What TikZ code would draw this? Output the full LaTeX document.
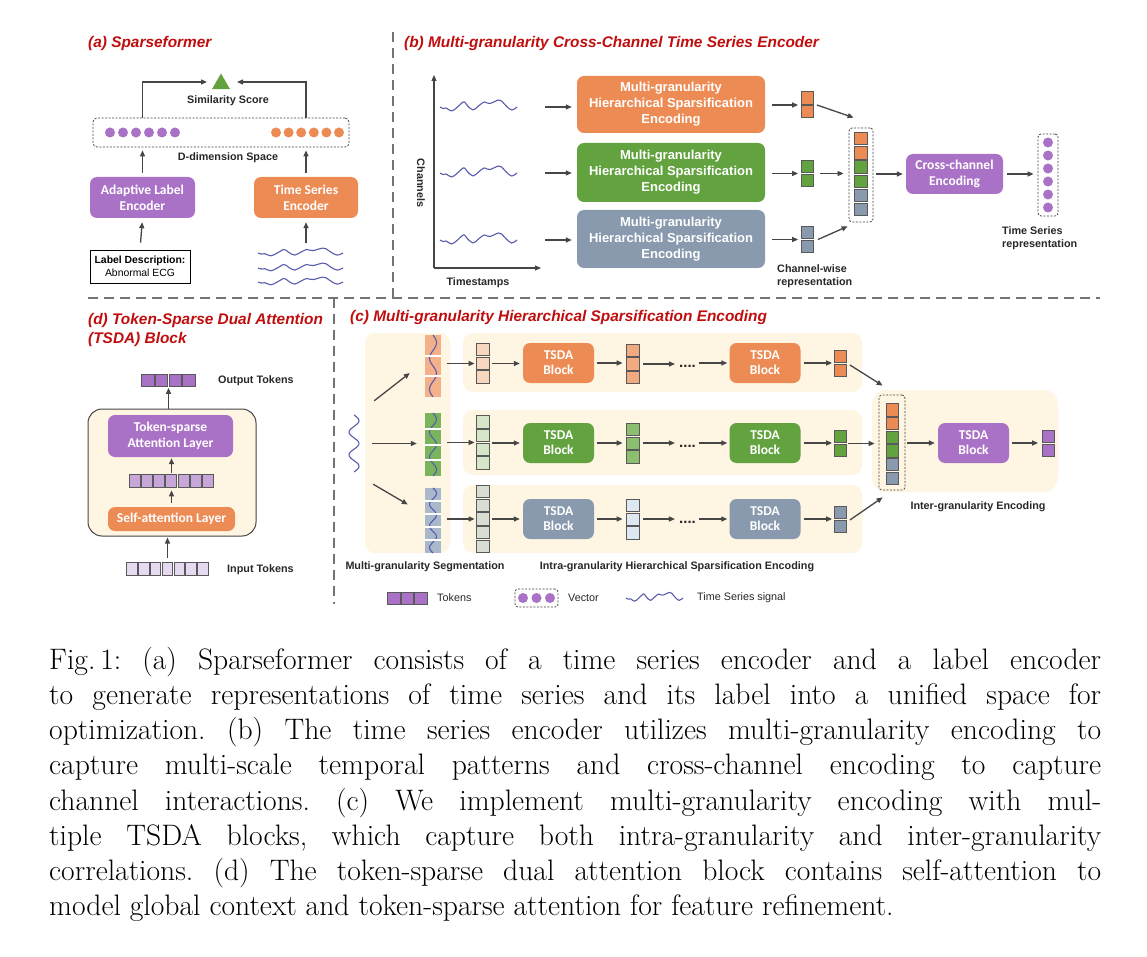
\documentclass[tikz,border=0pt]{standalone}
\usepackage{fontspec}
\setsansfont{Liberation Sans}
\newfontfamily\calfont{Carlito}
\usetikzlibrary{arrows.meta,shapes.geometric,calc}
\definecolor{tred}{RGB}{192,14,14}
\definecolor{corg}{RGB}{237,139,85}
\definecolor{corgm}{RGB}{242,170,128}
\definecolor{corgl}{RGB}{249,214,190}
\definecolor{cgrn}{RGB}{98,163,64}
\definecolor{cgrnm}{RGB}{140,190,112}
\definecolor{cgrnl}{RGB}{214,230,200}
\definecolor{cgry}{RGB}{137,153,174}
\definecolor{cgryl}{RGB}{216,222,210}
\definecolor{cblul}{RGB}{222,232,242}
\definecolor{cpur}{RGB}{170,114,198}
\definecolor{cpurm}{RGB}{200,166,216}
\definecolor{cpurl}{RGB}{230,218,240}
\definecolor{ccrm}{RGB}{254,246,226}
\definecolor{carr}{RGB}{70,70,70}
\definecolor{cwave}{RGB}{88,92,172}
\definecolor{ctxt}{RGB}{40,40,40}
\definecolor{cseg1}{RGB}{243,176,138}
\definecolor{cseg2}{RGB}{122,180,92}
\definecolor{cseg3}{RGB}{170,184,204}
\tikzset{
 arr/.style={draw=carr, line width=1.3pt, -{Triangle[length=6pt,width=5pt]}},
 divider/.style={draw=black!55, line width=1.2pt, dash pattern=on 10pt off 6pt},
 ttl/.style={font=\sffamily\bfseries\itshape\fontsize{15.4}{18.6}\selectfont, text=tred, inner sep=0, anchor=west, align=left},
 lbl/.style={font=\sffamily\bfseries\fontsize{10.8}{13.3}\selectfont, text=ctxt, inner sep=0, align=center},
 lgd/.style={font=\sffamily\fontsize{10.8}{13}\selectfont, text=ctxt, inner sep=0, anchor=west},
 blk/.style={rounded corners=7pt, inner sep=0, align=center, text=white},
 mh/.style={blk, font=\sffamily\bfseries\fontsize{13}{16}\selectfont, minimum width=188pt},
 cb/.style={blk, font=\calfont\bfseries\fontsize{13.5}{16}\selectfont},
 tsda/.style={blk, font=\calfont\bfseries\fontsize{13.5}{15}\selectfont, minimum width=71pt, minimum height=40pt},
 cell/.style={draw=carr!90, line width=0.7pt, minimum width=12.4pt, minimum height=12.4pt, inner sep=0},
 dotc/.style={circle, minimum size=10pt, inner sep=0, fill=#1},
 dbox/.style={draw=carr, dash pattern=on 2pt off 1.5pt, line width=0.8pt, rounded corners=3pt, inner sep=0},
 wave/.style={draw=cwave, line width=1.1pt, line join=round},
 holder/.style={inner sep=0, draw=none},
 bg/.style={fill=ccrm, rounded corners=10pt, inner sep=0, draw=none},
}
\newcommand\vstack[5]{%
  \node[holder, minimum width=12.4pt, minimum height={#4*13.7pt}] (#1) at (#2,#3) {};
  \foreach \k in {1,...,#4}{\node[cell, fill=#5] at ($(#1.north)+(0,{(\k-0.5)*13.7})$) {};}
}
\newcommand\hstack[6]{%
  \node[holder, minimum height=12.4pt, minimum width={#4*#6pt}] (#1) at (#2,#3) {};
  \foreach \k in {1,...,#4}{\node[cell, fill=#5, minimum width={#6pt-1.2pt}] at ($(#1.west)+({(\k-0.5)*#6},0)$) {};}
}
\newcommand\hwave[4]{%
  \draw[wave, shift={(#1,#2)}, xscale=#3, yscale=#4] plot[smooth, tension=0.6] coordinates {(0,0) (0.04,1.5) (0.08,1) (0.15,4) (0.22,0.5) (0.3,-5) (0.33,-4) (0.36,-1) (0.43,3) (0.5,-1) (0.57,-5) (0.61,-4) (0.65,-3.5) (0.76,-7) (0.8,-6) (0.86,-1) (0.93,3) (1,0)};
}
\newcommand\vwave[5]{%
  \draw[wave, shift={(#1,#2)}] plot[domain=0:1, samples=50, smooth] ({#4*sin(\x*360*#5)}, {\x*#3});
}
\begin{document}
\frenchspacing
\begin{tikzpicture}[x=1pt,y=-1pt]
\useasboundingbox (0,0) rectangle (1147,957);
\fill[white] (0,0) rectangle (1147,957);
% dividers
\coordinate (dh1) at (88,298); \coordinate (dh2) at (1100,298);
\coordinate (dv1) at (393,32); \coordinate (dv2) at (393,298);
\coordinate (dv3) at (334,298); \coordinate (dv4) at (334,604);
\draw[divider] (dh1) -- (dh2);
\draw[divider] (dv1) -- (dv2);
\draw[divider] (dv3) -- (dv4);

% ---------- (a)
\node[ttl] (ta) at (88,44) {(a) Sparseformer};
\node[regular polygon, regular polygon sides=3, fill=cgrn, minimum size=21pt, inner sep=0] (tri) at (221,84) {};
\node[lbl] (sim) at (228,101) {Similarity Score};
\node[dbox, minimum width=256pt, minimum height=29pt, rounded corners=4pt] (dsp) at (221,132.5) {};
\foreach \i in {0,...,5} {\node[dotc=cpur] at (110+13*\i,132.5) {};}
\foreach \i in {0,...,5} {\node[dotc=corg] at (276+12.6*\i,132.5) {};}
\node[lbl] (dds) at (228,158) {D-dimension Space};
\node[cb, fill=cpur, minimum width=105pt, minimum height=41pt] (ale) at (142.5,197.5) {Adaptive Label\\Encoder};
\node[cb, fill=corg, minimum width=104pt, minimum height=41pt] (tse) at (306,197.5) {Time Series\\Encoder};
\node[draw=black, line width=0.8pt, minimum width=100pt, minimum height=33pt, inner sep=0, align=center, font=\sffamily\fontsize{10.4}{12.7}\selectfont] (ld) at (140,266.5) {\textbf{Label Description:}\\Abnormal ECG};
\node[holder, minimum width=85pt, minimum height=30pt] (wa) at (300.5,267.5) {};
\hwave{258}{253}{85}{0.7}
\hwave{258}{268}{85}{0.7}
\hwave{258}{282}{85}{0.7}
\coordinate (triL) at (207,82); \coordinate (triR) at (237,82);
\draw[arr] (dsp.north -| ale.north) |- (triL);
\draw[arr] (dsp.north -| tse.north) |- (triR);
\draw[arr, shorten >=3pt, shorten <=4pt] (ale.north) -- (ale.north |- dsp.south);
\draw[arr, shorten >=3pt, shorten <=4pt] (tse.north) -- (tse.north |- dsp.south);
\draw[arr, shorten >=4pt, shorten <=7pt] (ld.north) -- (ale.south);
\draw[arr, shorten >=4pt, shorten <=9pt] (wa.north -| tse.south) -- (tse.south);

% ---------- (b)
\node[ttl] (tb) at (404,44) {(b) Multi-granularity Cross-Channel Time Series Encoder};
\coordinate (org) at (434,268); \coordinate (yax) at (434,75); \coordinate (xax) at (541,268);
\draw[arr, line width=1.1pt] (org) -- (yax);
\draw[arr, line width=1.1pt] (org) -- (xax);
\node[lbl, rotate=-90] (chl) at (421,183) {Channels};
\node[lbl] (tst) at (478,283) {Timestamps};
\foreach \yy/\nm in {107/w1,173/w2,240/w3} {\node[holder, minimum width=77pt, minimum height=16pt] (\nm) at (478.5,\yy) {}; \hwave{440}{\yy}{77}{1}}
\node[mh, fill=corg, minimum height=57pt] (m1) at (671,104.5) {Multi-granularity\\Hierarchical Sparsification\\Encoding};
\node[mh, fill=cgrn, minimum height=59pt] (m2) at (671,172.5) {Multi-granularity\\Hierarchical Sparsification\\Encoding};
\node[mh, fill=cgry, minimum height=58pt] (m3) at (671,239) {Multi-granularity\\Hierarchical Sparsification\\Encoding};
\draw[arr, shorten <=28pt, shorten >=5pt] (w1.east) -- (w1.east -| m1.west);
\draw[arr, shorten <=28pt, shorten >=5pt] (w2.east) -- (w2.east -| m2.west);
\draw[arr, shorten <=28pt, shorten >=5pt] (w3.east) -- (w3.east -| m3.west);
\vstack{s1}{807.5}{105}{2}{corg}
\vstack{s2}{807.5}{173.5}{2}{cgrn}
\vstack{s3}{807.5}{239.5}{2}{cgry}
\draw[arr, shorten <=7pt, shorten >=3pt] (m1.east |- s1.west) -- (s1.west);
\draw[arr, shorten <=7pt, shorten >=3pt] (m2.east |- s2.west) -- (s2.west);
\draw[arr, shorten <=7pt, shorten >=3pt] (m3.east |- s3.west) -- (s3.west);
\node[dbox, minimum width=24pt, minimum height=94pt] (cc) at (861,175) {};
\foreach \c [count=\k from 0] in {corg,corg,cgrn,cgrn,cgry,cgry} {\node[cell, fill=\c] at (861,138.5+14.2*\k) {};}
\draw[arr] ($(s1.east)+(3,0)$) -- ($(cc.north west)+(5,-10)$);
\draw[arr, shorten <=6pt, shorten >=5pt] (s2.east) -- (s2.east -| cc.west);
\draw[arr] ($(s3.east)+(4,0)$) -- ($(cc.south west)+(-1,4)$);
\node[cb, fill=cpur, minimum width=97pt, minimum height=40pt] (xe) at (954.5,174) {Cross-channel\\Encoding};
\draw[arr, shorten <=3pt, shorten >=3pt] (cc.east |- xe.west) -- (xe.west);
\node[dbox, minimum width=20pt, minimum height=82pt] (tsr) at (1048,175) {};
\foreach \k in {0,...,5} {\node[dotc=cpur] at (1048,142.5+13*\k) {};}
\draw[arr, shorten <=4pt, shorten >=4pt] (xe.east) -- (xe.east -| tsr.west);
\node[lbl, anchor=west, align=left] (tsrl) at (1002,238.3) {Time Series\\representation};
\node[lbl, anchor=west, align=left] (cwr) at (777,276) {Channel-wise\\representation};

% ---------- (d)
\node[ttl] (td) at (88,330) {(d) Token-Sparse Dual Attention\\(TSDA) Block};
\node[fill=ccrm, draw=carr, line width=1pt, rounded corners=14pt, minimum width=168pt, minimum height=127pt, inner sep=0] (cont) at (172,472.5) {};
\node[cb, fill=cpur, minimum width=125pt, minimum height=42pt] (tsa) at (170.5,436) {Token-sparse\\Attention Layer};
\hstack{mtk}{171.5}{481}{7}{cpurm}{12.2}
\node[cb, fill=corg, minimum width=127pt, minimum height=24pt] (sal) at (171.5,519) {Self-attention Layer};
\hstack{otk}{168.5}{380.5}{4}{cpur}{13.8}
\hstack{itk}{167.5}{569}{7}{cpurl}{11.9}
\node[lbl, anchor=west] (otl) at (218,381) {Output Tokens};
\node[lbl, anchor=west] (itl) at (227,570) {Input Tokens};
\draw[arr, shorten >=1pt] (otk.south |- cont.north) -- (otk.south);
\draw[arr, shorten <=2pt, shorten >=1pt] (mtk.north) -- (mtk.north |- tsa.south);
\draw[arr, shorten <=4pt, shorten >=3pt] (sal.north) -- (sal.north |- mtk.south);
\draw[arr, shorten <=5pt, shorten >=1pt] (itk.north) -- (itk.north |- cont.south);

% ---------- (c)
\node[ttl] (tc) at (350,318) {(c) Multi-granularity Hierarchical Sparsification Encoding};
\node[bg, minimum width=85pt, minimum height=220pt] (segbg) at (407.5,443) {};
\node[bg, minimum width=399pt, minimum height=59pt] (r1) at (662.5,362.5) {};
\node[bg, minimum width=399pt, minimum height=65pt] (r2) at (662.5,442.5) {};
\node[bg, minimum width=399pt, minimum height=68pt] (r3) at (662.5,519) {};
\node[bg, minimum width=186pt, minimum height=102pt, rounded corners=14pt] (rbg) at (965,441) {};
\node[holder, minimum width=12pt, minimum height=57pt] (win) at (354,443.5) {};
\vwave{354}{415}{57}{5}{2.5}
% strips
\node[fill=cseg1, minimum width=16pt, minimum height=62pt, inner sep=0] (sg1) at (433,366) {};
\vwave{433}{335}{62}{3.5}{2}
\foreach \k in {1,2} {\draw[white, line width=2pt] (425,335+62/3*\k) -- (441,335+62/3*\k);}
\node[fill=cseg2, minimum width=16pt, minimum height=63pt, inner sep=0] (sg2) at (433,444.5) {};
\vwave{433}{413}{63}{3.5}{2.5}
\foreach \k in {1,2,3} {\draw[white, line width=2pt] (425,413+63/4*\k) -- (441,413+63/4*\k);}
\node[fill=cseg3, minimum width=16pt, minimum height=65pt, inner sep=0] (sg3) at (433,520.5) {};
\vwave{433}{488}{65}{3.5}{3}
\foreach \k in {1,2,3,4} {\draw[white, line width=2pt] (425,488+65/5*\k) -- (441,488+65/5*\k);}
\draw[arr] ($(win.north east)+(14,-14)$) -- ($(sg1.west)+(-15,7)$);
\draw[arr, shorten <=12pt, shorten >=8pt] (win.east) -- (win.east -| sg2.west);
\draw[arr] ($(win.south east)+(13,12)$) -- ($(sg3.west)+(-17,-16)$);
% row 1
\vstack{k1a}{483}{363.5}{3}{corgl}
\node[tsda, fill=corg] (b1a) at (558.5,363) {TSDA\\Block};
\vstack{k1b}{633}{364}{3}{corgm}
\node[lbl, font=\sffamily\bfseries\fontsize{15}{15}\selectfont] (d1) at (687.5,366) {....};
\node[tsda, fill=corg] (b1b) at (765,363) {TSDA\\Block};
\vstack{k1c}{840.5}{363.5}{2}{corg}
\draw[arr, shorten <=6pt, shorten >=2pt] (sg1.east |- k1a.west) -- (k1a.west);
\draw[arr, shorten <=3pt, shorten >=3pt] (k1a.east) -- (k1a.east -| b1a.west);
\draw[arr, shorten <=3pt, shorten >=4pt] (b1a.east) -- (b1a.east -| k1b.west);
\draw[arr, shorten <=4pt, shorten >=4pt] (k1b.east) -- (k1b.east -| d1.west);
\draw[arr, shorten <=3pt, shorten >=2pt] (d1.east |- b1b.west) -- (b1b.west);
\draw[arr, shorten <=3pt, shorten >=2pt] (b1b.east) -- (b1b.east -| k1c.west);
% row 2
\vstack{k2a}{483}{442.5}{4}{cgrnl}
\node[tsda, fill=cgrn] (b2a) at (558.5,443) {TSDA\\Block};
\vstack{k2b}{633}{443.5}{3}{cgrnm}
\node[lbl, font=\sffamily\bfseries\fontsize{15}{15}\selectfont] (d2) at (687.5,446) {....};
\node[tsda, fill=cgrn] (b2b) at (765,443) {TSDA\\Block};
\vstack{k2c}{840.5}{443.5}{2}{cgrn}
\draw[arr, shorten <=6pt, shorten >=2pt] (sg2.east |- k2a.west) -- (k2a.west);
\draw[arr, shorten <=3pt, shorten >=3pt] (k2a.east |- b2a.west) -- (b2a.west);
\draw[arr, shorten <=3pt, shorten >=4pt] (b2a.east) -- (b2a.east -| k2b.west);
\draw[arr, shorten <=4pt, shorten >=4pt] (k2b.east |- b2a.east) -- (d2.west |- b2a.east);
\draw[arr, shorten <=3pt, shorten >=2pt] (d2.east |- b2b.west) -- (b2b.west);
\draw[arr, shorten <=3pt, shorten >=2pt] (b2b.east) -- (b2b.east -| k2c.west);
% row 3
\vstack{k3a}{483}{519}{5}{cgryl}
\node[tsda, fill=cgry] (b3a) at (558.5,519) {TSDA\\Block};
\vstack{k3b}{633}{519.5}{3}{cblul}
\node[lbl, font=\sffamily\bfseries\fontsize{15}{15}\selectfont] (d3) at (687.5,522) {....};
\node[tsda, fill=cgry] (b3b) at (765,519) {TSDA\\Block};
\vstack{k3c}{840.5}{519.5}{2}{cgry}
\draw[arr, shorten <=6pt, shorten >=2pt] (sg3.east |- k3a.west) -- (k3a.west);
\draw[arr, shorten <=3pt, shorten >=3pt] (k3a.east) -- (k3a.east -| b3a.west);
\draw[arr, shorten <=3pt, shorten >=4pt] (b3a.east) -- (b3a.east -| k3b.west);
\draw[arr, shorten <=4pt, shorten >=4pt] (k3b.east |- b3a.east) -- (d3.west |- b3a.east);
\draw[arr, shorten <=3pt, shorten >=2pt] (d3.east |- b3b.west) -- (b3b.west);
\draw[arr, shorten <=3pt, shorten >=2pt] (b3b.east) -- (b3b.east -| k3c.west);
% inter-granularity
\node[dbox, minimum width=26pt, minimum height=95pt] (cc2) at (892,442.5) {};
\foreach \c [count=\k from 0] in {corg,corg,cgrn,cgrn,cgry,cgry} {\node[cell, fill=\c] at (892.5,409.8+13.7*\k) {};}
\draw[arr] ($(k1c.east)+(3,1.5)$) -- ($(cc2.north west)+(4,-9)$);
\draw[arr, shorten <=1pt, shorten >=4pt] (k2c.east) -- (k2c.east -| cc2.west);
\draw[arr] ($(k3c.east)+(3,0.5)$) -- ($(cc2.south west)+(4,7)$);
\node[tsda, fill=cpur] (bi) at (973.5,443) {TSDA\\Block};
\draw[arr, shorten <=2pt, shorten >=3pt] (cc2.east |- bi.west) -- (bi.west);
\vstack{k4}{1048.5}{443.5}{2}{cpur}
\draw[arr, shorten <=3pt, shorten >=4pt] (bi.east) -- (bi.east -| k4.west);
\node[lbl] (igl) at (978,507) {Inter-granularity Encoding};
\node[lbl] (mgs) at (425,567) {Multi-granularity Segmentation};
\node[lbl] (ihs) at (677,567) {Intra-granularity Hierarchical Sparsification Encoding};

% legend
\hstack{lgt}{407.5}{598.5}{3}{cpur}{13.7}
\node[lgd] (lgtl) at (437,598) {Tokens};
\node[dbox, minimum width=43pt, minimum height=18pt] (lgv) at (536.5,598) {};
\foreach \i in {0,1,2} {\node[dotc=cpur] at (523+13.5*\i,598) {};}
\node[lgd] (lgvl) at (568,598) {Vector};
\node[holder, minimum width=57pt, minimum height=10pt] (lgw) at (654.5,598) {};
\hwave{626}{598}{57}{0.8}
\node[lgd] (lgwl) at (697,598) {Time Series signal};

% caption
\node[anchor=north west, inner sep=0, text width=1052pt, align=justify, font=\fontsize{29.6}{35.2}\selectfont] (cap) at (49,647) {Fig.\,1: (a) Sparseformer consists of a time series encoder and a label encoder\linebreak to generate representations of time series and its label into a unified space for\linebreak optimization. (b) The time series encoder utilizes multi-granularity encoding to\linebreak capture multi-scale temporal patterns and cross-channel encoding to capture\linebreak channel interactions. (c) We implement multi-granularity encoding with mul-\linebreak tiple TSDA blocks, which capture both intra-granularity and inter-granularity\linebreak correlations. (d) The token-sparse dual attention block contains self-attention to\linebreak model global context and token-sparse attention for feature refinement.};
\end{tikzpicture}
\end{document}
